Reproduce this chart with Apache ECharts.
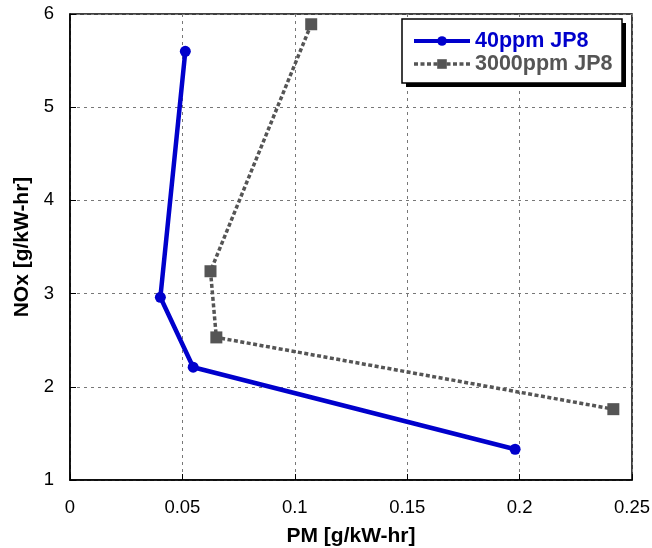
<!DOCTYPE html>
<html><head><meta charset="utf-8">
<script src="https://cdn.jsdelivr.net/npm/echarts@6/dist/echarts.min.js"></script>
<style>html,body{margin:0;padding:0;background:#fff}#c{width:652px;height:548px}</style>
</head><body><div id="c"></div>
<script>
const xTicks = [0, 0.05, 0.1, 0.15, 0.2, 0.25];
const yTicks = [1, 2, 3, 4, 5, 6];
const seriesNames = ['40ppm JP8', '3000ppm JP8'];
const pm40 = [0.0513, 0.0402, 0.0548, 0.198];
const nox40 = [5.60, 2.96, 2.21, 1.33];
const pm3000 = [0.1073, 0.0625, 0.0651, 0.2417];
const nox3000 = [5.89, 3.24, 2.53, 1.76];

const chart = echarts.init(document.getElementById('c'), null, {renderer: 'canvas'});
const font = 'Arial, "Liberation Sans", sans-serif';
const pair = (xs, ys) => xs.map((x, i) => [x, ys[i]]);
const BLUE = '#0000cc', GRAY = '#555555';
chart.setOption({
  animation: false,
  backgroundColor: '#fff',
  grid: {left: 70, right: 20, top: 14, bottom: 68, show: true, borderColor: '#000', borderWidth: 1.5,
         containLabel: false, outerBoundsMode: 'none'},
  graphic: [
    {type: 'rect', z: 3, shape: {x: 406, y: 23, width: 220, height: 64}, style: {fill: '#000'}},
    {type: 'rect', z: 3, shape: {x: 402, y: 19, width: 220, height: 64}, style: {fill: '#fff', stroke: '#000', lineWidth: 1.5}}
  ],
  xAxis: {
    type: 'value', min: 0, max: 0.25, interval: 0.05,
    name: 'PM [g/kW-hr]', nameLocation: 'middle', nameGap: 46,
    nameTextStyle: {fontFamily: font, fontWeight: 'bold', fontSize: 21, color: '#000'},
    axisLine: {lineStyle: {color: '#000', width: 1.5}},
    axisTick: {show: true, inside: true, length: 6, lineStyle: {color: '#000'}},
    axisLabel: {fontFamily: font, fontSize: 18.5, color: '#000', margin: 18,
      formatter: v => { const t = xTicks.find(t => Math.abs(t - v) < 1e-9); return t === undefined ? '' : String(t); }},
    splitLine: {show: true, lineStyle: {color: '#777', type: [3, 4], width: 1}}
  },
  yAxis: {
    type: 'value', min: 1, max: 6, interval: 1,
    name: 'NOx [g/kW-hr]', nameLocation: 'middle', nameGap: 33, nameRotate: 90,
    nameTextStyle: {fontFamily: font, fontWeight: 'bold', fontSize: 21, color: '#000'},
    axisLine: {show: true, lineStyle: {color: '#000', width: 1.5}},
    axisTick: {show: true, inside: true, length: 6, lineStyle: {color: '#000'}},
    axisLabel: {fontFamily: font, fontSize: 18.5, color: '#000', margin: 16,
      formatter: v => { const t = yTicks.find(t => Math.abs(t - v) < 1e-9); return t === undefined ? '' : String(t); }},
    splitLine: {show: true, lineStyle: {color: '#777', type: [3, 4], width: 1}}
  },
  legend: {
    left: 412, top: 30, orient: 'vertical', z: 4,
    itemWidth: 56, itemHeight: 12, itemGap: 1,
    padding: 0,
    textStyle: {fontFamily: font, fontWeight: 'bold', fontSize: 21.5},
    data: [
      {name: seriesNames[0], textStyle: {color: BLUE}, lineStyle: {width: 4}},
      {name: seriesNames[1], textStyle: {color: GRAY}, lineStyle: {width: 3.5}}
    ]
  },
  series: [
    {
      name: seriesNames[0], type: 'line', data: pair(pm40, nox40),
      symbol: 'circle', symbolSize: 11,
      lineStyle: {color: BLUE, width: 4.5},
      itemStyle: {color: BLUE}
    },
    {
      name: seriesNames[1], type: 'line', data: pair(pm3000, nox3000),
      symbol: 'rect', symbolSize: 12,
      lineStyle: {color: GRAY, width: 3.5, type: [4, 2.5]},
      itemStyle: {color: GRAY}
    }
  ]
});
</script></body></html>
